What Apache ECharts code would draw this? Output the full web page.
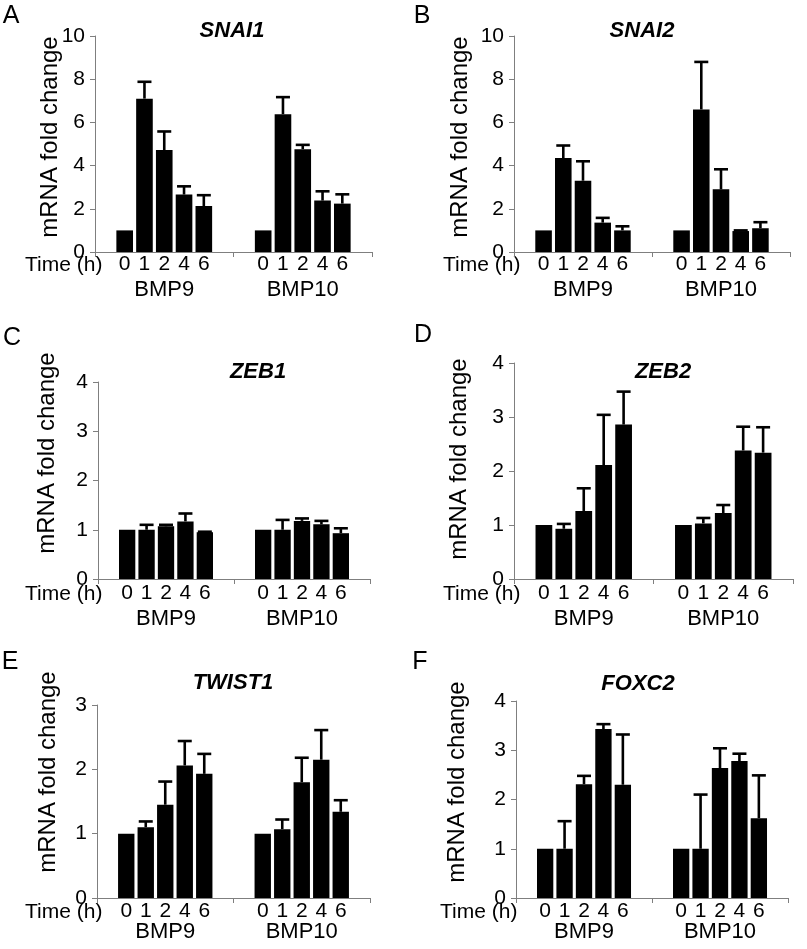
<!DOCTYPE html>
<html>
<head>
<meta charset="utf-8">
<script src="https://cdn.jsdelivr.net/npm/echarts@6/dist/echarts.min.js"></script>
<style>
html,body{margin:0;padding:0;background:#fff;}
#chart{width:807px;height:949px;}
</style>
</head>
<body>
<div id="chart"></div>
<script>
// ---------- data ----------
const times = ['0', '1', '2', '4', '6'];
const groups = ['BMP9', 'BMP10'];
const genes = ['SNAI1', 'SNAI2', 'ZEB1', 'ZEB2', 'TWIST1', 'FOXC2'];
const panelLetters = ['A', 'B', 'C', 'D', 'E', 'F'];
const yMaxes = [10, 10, 4, 4, 3, 4];
const ySteps = [2, 2, 1, 1, 1, 1];
const yAxisTitle = 'mRNA fold change';
const timeTitle = 'Time (h)';

const snai1Bmp9 = [1, 7.1, 4.72, 2.66, 2.13];
const snai1Bmp9Sd = [0, 0.78, 0.86, 0.38, 0.50];
const snai1Bmp10 = [1, 6.38, 4.76, 2.38, 2.24];
const snai1Bmp10Sd = [0, 0.79, 0.20, 0.43, 0.43];

const snai2Bmp9 = [1, 4.35, 3.3, 1.36, 1.0];
const snai2Bmp9Sd = [0, 0.58, 0.9, 0.22, 0.19];
const snai2Bmp10 = [1, 6.6, 2.9, 0.97, 1.1];
const snai2Bmp10Sd = [0, 2.2, 0.93, 0.03, 0.28];

const zeb1Bmp9 = [1, 1.0, 1.07, 1.17, 0.95];
const zeb1Bmp9Sd = [0, 0.1, 0.03, 0.16, 0.01];
const zeb1Bmp10 = [1, 1.0, 1.18, 1.11, 0.93];
const zeb1Bmp10Sd = [0, 0.2, 0.05, 0.07, 0.1];

const zeb2Bmp9 = [1, 0.93, 1.26, 2.11, 2.86];
const zeb2Bmp9Sd = [0, 0.09, 0.42, 0.93, 0.61];
const zeb2Bmp10 = [1, 1.03, 1.22, 2.38, 2.34];
const zeb2Bmp10Sd = [0, 0.1, 0.15, 0.44, 0.47];

const twist1Bmp9 = [1, 1.10, 1.45, 2.06, 1.93];
const twist1Bmp9Sd = [0, 0.09, 0.36, 0.38, 0.31];
const twist1Bmp10 = [1, 1.07, 1.80, 2.15, 1.34];
const twist1Bmp10Sd = [0, 0.15, 0.38, 0.46, 0.18];

const foxc2Bmp9 = [1, 1.0, 2.31, 3.43, 2.30];
const foxc2Bmp9Sd = [0, 0.56, 0.17, 0.10, 1.02];
const foxc2Bmp10 = [1, 1.0, 2.64, 2.78, 1.62];
const foxc2Bmp10Sd = [0, 1.10, 0.40, 0.15, 0.87];

const means = [
  [snai1Bmp9, snai1Bmp10], [snai2Bmp9, snai2Bmp10], [zeb1Bmp9, zeb1Bmp10],
  [zeb2Bmp9, zeb2Bmp10], [twist1Bmp9, twist1Bmp10], [foxc2Bmp9, foxc2Bmp10]
];
const sds = [
  [snai1Bmp9Sd, snai1Bmp10Sd], [snai2Bmp9Sd, snai2Bmp10Sd], [zeb1Bmp9Sd, zeb1Bmp10Sd],
  [zeb2Bmp9Sd, zeb2Bmp10Sd], [twist1Bmp9Sd, twist1Bmp10Sd], [foxc2Bmp9Sd, foxc2Bmp10Sd]
];

// ---------- layout ----------
const layout = [
  {grid: [95, 36, 277, 216], title: [232, 31], letter: [11, 16], ylab: [50, 137], time: [25, 265], tm: 2, gm: 27},
  {grid: [514, 36, 276, 216], title: [642, 31], letter: [422, 16], ylab: [460, 137], time: [443, 265], tm: 2, gm: 27},
  {grid: [98, 382, 272, 197], title: [258, 372], letter: [12, 338], ylab: [47, 453], time: [25, 594], tm: 4, gm: 29},
  {grid: [514, 363, 279, 216], title: [663, 372], letter: [423, 335], ylab: [459, 459], time: [443, 594], tm: 4, gm: 29},
  {grid: [97, 705, 273, 193], title: [233, 683], letter: [10, 662], ylab: [48, 772], time: [25, 912], tm: 3, gm: 23},
  {grid: [516, 701, 272, 197], title: [638, 684], letter: [420, 662], ylab: [457, 782], time: [440, 912], tm: 3, gm: 23}
];

const FONT = '"Liberation Sans", Arial, Helvetica, sans-serif';
const AXIS_COLOR = '#7f7f7f';

// slot categories: pad, 5 times, pad for each group
const slots = [];
groups.forEach(g => {
  slots.push(g + '|pad-a');
  times.forEach(t => slots.push(g + '|' + t));
  slots.push(g + '|pad-b');
});

function renderErr(params, api) {
  const x = api.value(0), m = api.value(1), sd = api.value(2);
  if (!(sd > 0)) return;
  const p0 = api.coord([x, m]);
  const p1 = api.coord([x, m + sd]);
  const half = 7;
  const st = {stroke: '#000', lineWidth: 2.6};
  return {
    type: 'group',
    children: [
      {type: 'line', shape: {x1: p0[0], y1: p0[1], x2: p1[0], y2: p1[1]}, style: st},
      {type: 'line', shape: {x1: p1[0] - half, y1: p1[1], x2: p1[0] + half, y2: p1[1]}, style: st}
    ]
  };
}

const grid = [], xAxis = [], yAxis = [], series = [], graphic = [];

layout.forEach((L, i) => {
  grid.push({left: L.grid[0], top: L.grid[1], width: L.grid[2], height: L.grid[3], containLabel: false});
  // slot axis (time labels)
  xAxis.push({
    type: 'category', gridIndex: i, position: 'bottom', data: slots,
    axisLine: {show: false}, axisTick: {show: false}, splitLine: {show: false},
    axisLabel: {
      interval: 0, margin: L.tm, fontSize: 21, fontFamily: FONT, color: '#000',
      formatter: v => v.indexOf('pad') >= 0 ? '' : v.split('|')[1]
    }
  });
  // group axis (BMP labels + line + ticks)
  xAxis.push({
    type: 'category', gridIndex: i, position: 'bottom', data: groups,
    axisLine: {show: true, lineStyle: {color: AXIS_COLOR, width: 1}},
    axisTick: {show: true, length: 5, lineStyle: {color: AXIS_COLOR}},
    splitLine: {show: false},
    axisLabel: {margin: L.gm, fontSize: 22, fontFamily: FONT, color: '#000'}
  });
  yAxis.push({
    type: 'value', gridIndex: i, min: 0, max: yMaxes[i], interval: ySteps[i],
    axisLine: {show: true, lineStyle: {color: AXIS_COLOR, width: 1}},
    axisTick: {show: true, length: 5, lineStyle: {color: AXIS_COLOR}},
    splitLine: {show: false},
    axisLabel: {margin: 10, fontSize: 21, fontFamily: FONT, color: '#000'}
  });

  const barData = [];
  const errData = [];
  groups.forEach((g, gi) => {
    barData.push('-');
    means[i][gi].forEach((v, ti) => {
      const idx = barData.length;
      barData.push(v);
      errData.push([idx, v, sds[i][gi][ti]]);
    });
    barData.push('-');
  });

  series.push({
    type: 'bar', xAxisIndex: 2 * i, yAxisIndex: i, data: barData,
    barCategoryGap: '16%', itemStyle: {color: '#000'}, silent: true
  });
  series.push({
    type: 'custom', xAxisIndex: 2 * i, yAxisIndex: i, data: errData,
    encode: {x: 0, y: 1}, renderItem: renderErr, z: 5, silent: true, clip: false
  });

  graphic.push({
    type: 'text', x: L.letter[0], y: L.letter[1], silent: true,
    style: {text: panelLetters[i], font: '25px ' + FONT, fill: '#000', align: 'center', verticalAlign: 'middle'}
  });
  graphic.push({
    type: 'text', x: L.title[0], y: L.title[1], silent: true,
    style: {text: genes[i], font: 'italic bold 22px ' + FONT, fill: '#000', align: 'center', verticalAlign: 'middle'}
  });
  graphic.push({
    type: 'text', x: L.ylab[0], y: L.ylab[1], rotation: Math.PI / 2, silent: true,
    style: {text: yAxisTitle, font: '24px ' + FONT, fill: '#000', align: 'center', verticalAlign: 'middle'}
  });
  graphic.push({
    type: 'text', x: L.time[0], y: L.time[1], silent: true,
    style: {text: timeTitle, font: '21px ' + FONT, fill: '#000', align: 'left', verticalAlign: 'middle'}
  });
});

const chart = echarts.init(document.getElementById('chart'), null, {renderer: 'canvas'});
chart.setOption({
  backgroundColor: '#fff',
  animation: false,
  grid, xAxis, yAxis, series, graphic
});
</script>
</body>
</html>
